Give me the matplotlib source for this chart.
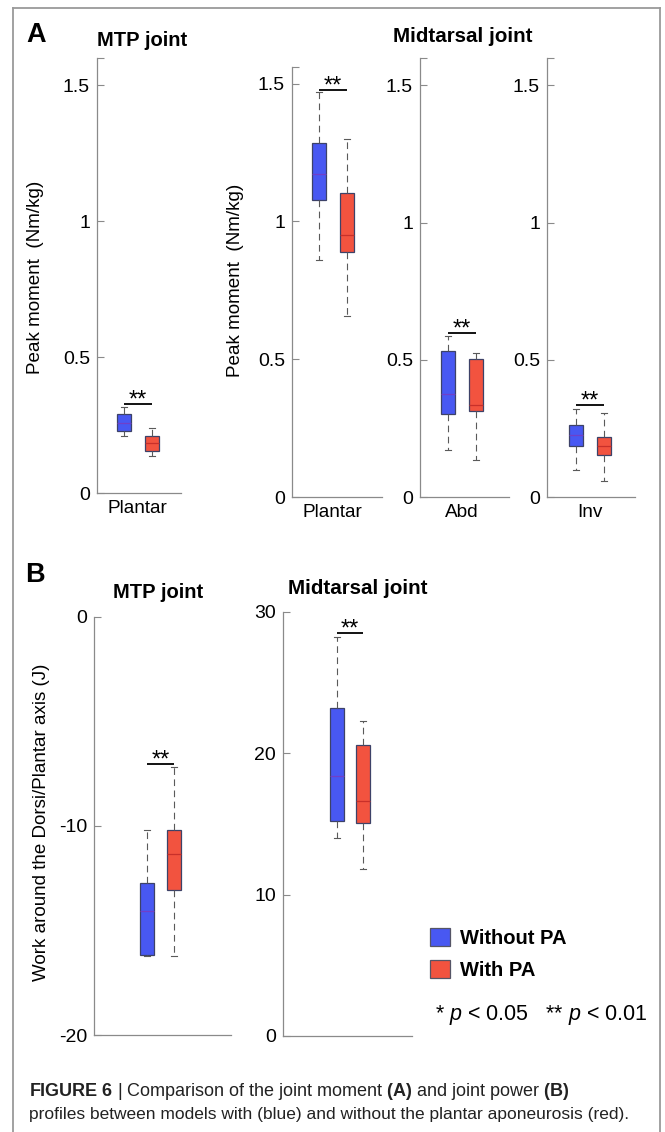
import matplotlib
matplotlib.use("Agg")
import matplotlib.pyplot as plt
from matplotlib.lines import Line2D
from matplotlib.patches import Patch

plt.rcParams["font.family"] = ["Liberation Sans", "DejaVu Sans"]
plt.rcParams["mathtext.fontset"] = "custom"
plt.rcParams["mathtext.rm"] = "Liberation Sans"
plt.rcParams["mathtext.it"] = "Liberation Sans:italic"
plt.rcParams["mathtext.bf"] = "Liberation Sans:bold"

# box stats: low whisker, q1, median, q3, high whisker
groups = ["Without PA", "With PA"]
colors = ["#4858f2", "#f2533f"]
median_colors = ["#7040c8", "#c8302a"]

# panel A: peak moment (Nm/kg)
mtp_plantar_blue = [0.21, 0.228, 0.257, 0.290, 0.316]
mtp_plantar_red = [0.136, 0.154, 0.184, 0.21, 0.24]
mid_plantar_blue = [0.86, 1.076, 1.171, 1.284, 1.47]
mid_plantar_red = [0.655, 0.89, 0.95, 1.102, 1.298]
mid_abd_blue = [0.171, 0.302, 0.375, 0.531, 0.585]
mid_abd_red = [0.135, 0.313, 0.335, 0.502, 0.524]
mid_inv_blue = [0.098, 0.185, 0.225, 0.262, 0.32]
mid_inv_red = [0.058, 0.153, 0.185, 0.218, 0.305]

# panel B: work around the dorsi/plantar axis (J)
work_mtp_blue = [-16.2, -16.17, -14.07, -12.73, -10.2]
work_mtp_red = [-16.2, -13.05, -11.35, -10.2, -7.2]
work_mid_blue = [14.0, 15.2, 18.4, 23.2, 28.2]
work_mid_red = [11.8, 15.1, 16.6, 20.6, 22.3]

# height of the ** bars
sig_levels = [0.327, 1.476, 0.596, 0.335, -7.05, 28.5]

moment_ticks = [0, 0.5, 1, 1.5]
moment_ticklabels = ["0", "0.5", "1", "1.5"]
work_mtp_ticks = [-20, -10, 0]
work_mtp_ticklabels = ["-20", "-10", "0"]
work_mid_ticks = [0, 10, 20, 30]
work_mid_ticklabels = ["0", "10", "20", "30"]

W, H = 665, 1132
fig = plt.figure(figsize=(W / 100, H / 100), dpi=100)

AXIS_GRAY = "#8a8a8a"


def px_axes(left, top, right, bottom):
    return fig.add_axes([left / W, 1 - bottom / H, (right - left) / W, (bottom - top) / H])


def px_text(x, y, s, **kw):
    return fig.text(x / W, 1 - y / H, s, **kw)


def stats(vals):
    lo, q1, med, q3, hi = vals
    return dict(whislo=lo, q1=q1, med=med, q3=q3, whishi=hi, fliers=[])


def box_panel(ax, blue, red, sig, xlim, ylim, ticks, ticklabels, xlabel=None):
    bp = ax.bxp([stats(blue), stats(red)], positions=[1, 2], widths=0.52,
                capwidths=0.24, patch_artist=True, showfliers=False,
                whiskerprops=dict(color="#5a5a5a", linestyle=(0, (6, 4)), linewidth=0.8),
                capprops=dict(color="#5a5a5a", linewidth=0.8),
                boxprops=dict(edgecolor="#3d4268", linewidth=0.9))
    for patch, c in zip(bp["boxes"], colors):
        patch.set_facecolor(c)
    for line, c in zip(bp["medians"], median_colors):
        line.set_color(c)
        line.set_linewidth(0.9)
    ax.set_xlim(*xlim)
    ax.set_ylim(*ylim)
    ax.set_yticks(ticks)
    ax.set_yticklabels(ticklabels)
    ax.set_yticks([ylim[1]], minor=True)
    if xlabel:
        ax.set_xticks([1.5])
        ax.set_xticklabels([xlabel])
    else:
        ax.set_xticks([])
    for side in ["top", "right"]:
        ax.spines[side].set_visible(False)
    for side in ["left", "bottom"]:
        ax.spines[side].set_color(AXIS_GRAY)
        ax.spines[side].set_linewidth(0.9)
    ax.tick_params(axis="y", which="both", direction="in", length=5, width=0.8,
                   color=AXIS_GRAY, labelsize=14, pad=5)
    ax.tick_params(axis="x", length=0, labelsize=13.7, pad=5)
    ax.plot([1, 2], [sig, sig], color="black", linewidth=1.3, solid_capstyle="butt",
            clip_on=False)
    ax.annotate("**", xy=(1.5, sig), xytext=(0, -1.5), textcoords="offset points",
                ha="center", va="baseline", fontsize=17, annotation_clip=False)
    return ax


# ---- panel A ----
a1 = px_axes(97, 58, 181, 493)
box_panel(a1, mtp_plantar_blue, mtp_plantar_red, sig_levels[0], (0.04, 3.04), (0, 1.6),
          moment_ticks, moment_ticklabels, "Plantar")
a2 = px_axes(292, 67, 382, 497)
box_panel(a2, mid_plantar_blue, mid_plantar_red, sig_levels[1], (0.04, 3.25), (0, 1.56),
          moment_ticks, moment_ticklabels, "Plantar")
a3 = px_axes(420, 58, 509, 497)
box_panel(a3, mid_abd_blue, mid_abd_red, sig_levels[2], (0.0, 3.18), (0, 1.6),
          moment_ticks, moment_ticklabels, "Abd")
a4 = px_axes(547, 58, 635, 497)
box_panel(a4, mid_inv_blue, mid_inv_red, sig_levels[3], (-0.04, 3.11), (0, 1.6),
          moment_ticks, moment_ticklabels, "Inv")

# ---- panel B ----
b1 = px_axes(94, 617, 231, 1035)
box_panel(b1, work_mtp_blue, work_mtp_red, sig_levels[4], (-0.96, 4.11), (-20, 0),
          work_mtp_ticks, work_mtp_ticklabels)
b2 = px_axes(283, 612, 412, 1036)
box_panel(b2, work_mid_blue, work_mid_red, sig_levels[5], (-1.08, 3.88), (0, 30),
          work_mid_ticks, work_mid_ticklabels)

# labels and titles
px_text(36, 35, "A", fontsize=19.5, fontweight="bold", ha="center", va="center")
px_text(142, 40, "MTP joint", fontsize=14.5, fontweight="bold", ha="center", va="center")
px_text(463, 37, "Midtarsal joint", fontsize=14.8, fontweight="bold", ha="center", va="center")
px_text(36, 277, "Peak moment  (Nm/kg)", fontsize=13.6, rotation=90, ha="center", va="center")
px_text(235, 280, "Peak moment  (Nm/kg)", fontsize=13.6, rotation=90, ha="center", va="center")

px_text(35, 575, "B", fontsize=19.5, fontweight="bold", ha="center", va="center")
px_text(158, 592, "MTP joint", fontsize=14.5, fontweight="bold", ha="center", va="center")
px_text(358, 589, "Midtarsal joint", fontsize=14.8, fontweight="bold", ha="center", va="center")
px_text(42, 822, "Work around the Dorsi/Plantar axis (J)", fontsize=13.5, rotation=90,
        ha="center", va="center")

# legend
handles = [Patch(facecolor=c, edgecolor="#555566", linewidth=0.9) for c in colors]
fig.legend(handles, groups, loc="upper left", bbox_to_anchor=(430 / W, 1 - 928 / H),
           frameon=False, prop=dict(size=14.5, weight="bold"), handlelength=1.0,
           handleheight=1.0, handletextpad=0.5, labelspacing=0.6, borderpad=0,
           borderaxespad=0)
px_text(435, 1015, "* $p$ < 0.05   ** $p$ < 0.01", fontsize=15.5, ha="left", va="center")

# caption
px_text(29, 1092, r"$\bf{FIGURE\ 6}$ | Comparison of the joint moment $\bf{(A)}$ and joint power $\bf{(B)}$",
        fontsize=13.0, ha="left", va="center", color="#222222")
px_text(29, 1115, "profiles between models with (blue) and without the plantar aponeurosis (red).",
        fontsize=12.5, ha="left", va="center", color="#222222")

# outer frame
frame_kw = dict(color="#9a9a9a", linewidth=1.3, transform=fig.transFigure)
fig.add_artist(Line2D([13 / W, 660 / W], [1 - 8 / H, 1 - 8 / H], **frame_kw))
fig.add_artist(Line2D([13 / W, 13 / W], [1 - 8 / H, 0], **frame_kw))
fig.add_artist(Line2D([660 / W, 660 / W], [1 - 8 / H, 0], **frame_kw))

fig.savefig("out.png", dpi=100)
